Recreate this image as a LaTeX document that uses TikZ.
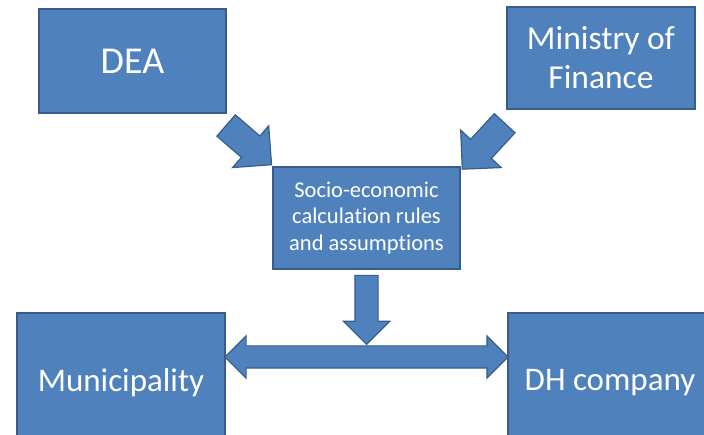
\documentclass[tikz,border=0pt]{standalone}
\usepackage{fontspec}
\setmainfont{Carlito}[Ligatures=NoCommon]
\usetikzlibrary{shapes.arrows}
\definecolor{slideblue}{RGB}{79,129,189}
\definecolor{slideedge}{RGB}{56,93,138}

\begin{document}
\begin{tikzpicture}[x=1pt, y=-1pt,
    box/.style={draw=slideedge, line width=1.2pt, fill=slideblue, text=white, inner sep=0pt, align=center},
    blockarrow/.style={draw=slideedge, line width=1.2pt, fill=slideblue, inner xsep=0pt, sloped, allow upside down},
    fatarrow/.style={blockarrow, single arrow, single arrow tip angle=90, inner ysep=13.5pt, single arrow head extend=13.5pt}]
    \clip (0,0) rectangle (704,435);

    % DEA
    \node[box, minimum width=187pt, minimum height=104pt, font=\fontsize{38}{44}\selectfont] (dea) at (132.5,61) {DEA};

    % Ministry of Finance
    \node[box, minimum width=188pt, minimum height=102pt, font=\fontsize{33.5}{39}\selectfont] (ministry) at (601,58) {Ministry of\\Finance};

    % Rules in the middle
    \node[box, minimum width=187pt, minimum height=102pt, font=\fontsize{22.5}{26.5}\selectfont] (rules) at (366.5,218) {Socio-economic\\calculation rules\\and assumptions};

    % Municipality and DH company
    \node[box, minimum width=208pt, minimum height=140pt, font=\fontsize{33}{40}\selectfont] (municipality) at (121,383) {Municipality};
    \node[box, minimum width=204pt, minimum height=140pt, font=\fontsize{33}{40}\selectfont] (dh) at (610,383) {DH company};

    % Arrows into the rules
    \path ([shift={(-5,8)}]dea.south east) -- node[fatarrow, minimum height=60pt] (deaarrow) {} ([shift={(-7,-7)}]rules.north west);
    \path ([shift={(2.5,9)}]ministry.south west) -- node[fatarrow, minimum height=62.5pt] (ministryarrow) {} ([shift={(7,-3)}]rules.north east);

    % Arrow down from the rules
    \path (rules.south) -- node[fatarrow, inner ysep=11pt, single arrow head extend=11.5pt, minimum height=69pt] (rulesarrow) {} ([yshift=-69pt]rules.south);

    % Two-way arrow
    \path ([yshift=26pt]municipality.east) -- node[blockarrow, double arrow, double arrow tip angle=90, inner ysep=10.5pt, double arrow head extend=10pt, minimum height=283pt] (link) {} ([yshift=26pt]dh.west);
\end{tikzpicture}
\end{document}
